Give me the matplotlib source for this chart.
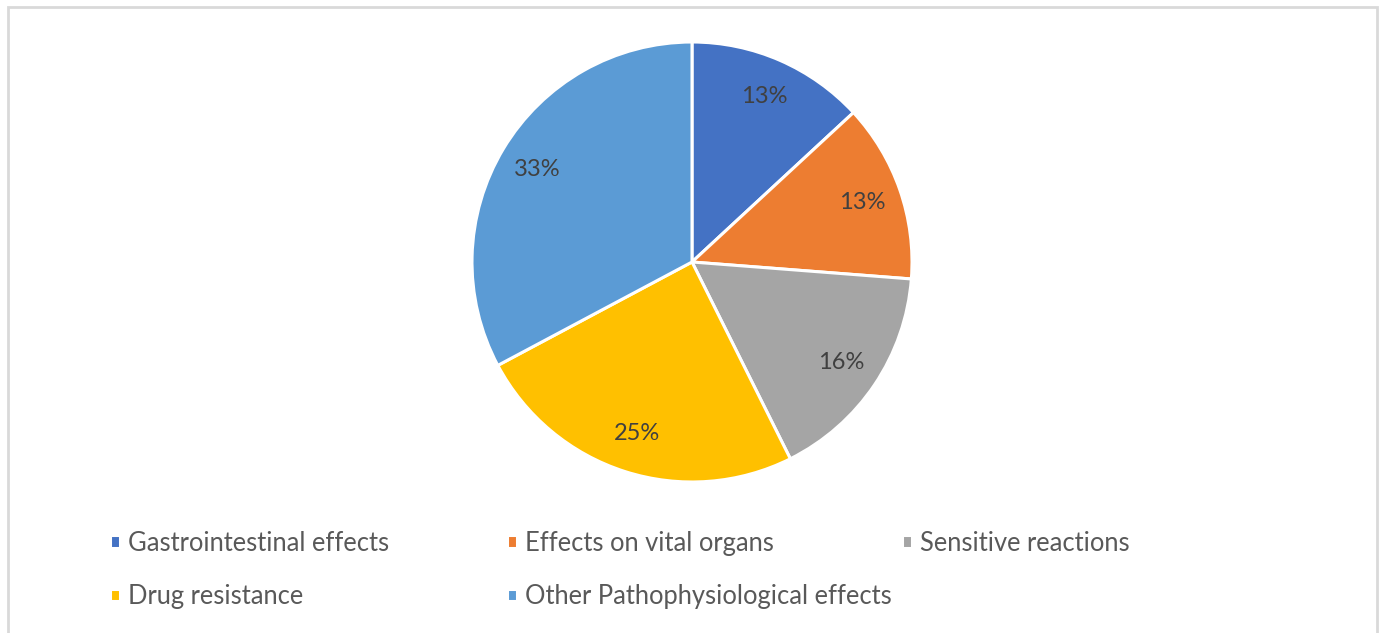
import matplotlib
matplotlib.use('Agg')
import matplotlib.pyplot as plt
from matplotlib.patches import Rectangle

plt.rcParams['font.family'] = ['Lato', 'DejaVu Sans']

categories = ['Gastrointestinal effects', 'Effects on vital organs', 'Sensitive reactions',
              'Drug resistance', 'Other Pathophysiological effects']
values = [8, 8, 10, 15, 20]
colors = ['#4472C4', '#ED7D31', '#A5A5A5', '#FFC000', '#5B9BD5']

W, H = 1383, 633
fig = plt.figure(figsize=(W / 100, H / 100), dpi=100)

# light chart border like the Excel chart area
fig.patches.append(Rectangle((8 / W, -0.02), (1377 - 8) / W, 1.02 - 7 / H,
                             transform=fig.transFigure, fill=False,
                             edgecolor='#d9d9d9', linewidth=2))

cx, cy, r = 692, 262, 220
ax = fig.add_axes([(cx - r) / W, (H - cy - r) / H, 2 * r / W, 2 * r / H])
wedges, texts, autotexts = ax.pie(values, colors=colors, startangle=90, counterclock=False,
                                  autopct='%1.0f%%', pctdistance=0.82, radius=1,
                                  wedgeprops=dict(edgecolor='white', linewidth=2.2),
                                  textprops=dict(color='#404040', fontsize=17))
ax.set_xlim(-1, 1)
ax.set_ylim(-1, 1)
ax.axis('off')

# legend as three columns with equal pitch, like Excel
cols = [[0, 3], [1, 4], [2]]
xs = [110, 507, 902]
for xpix, idx in zip(xs, cols):
    fig.legend([wedges[i] for i in idx], [categories[i] for i in idx],
               loc='upper left', bbox_to_anchor=(xpix / W, 1 - 531 / H),
               frameon=False, fontsize=18.4, labelcolor='#595959',
               handlelength=0.4, handleheight=0.4, handletextpad=0.3,
               labelspacing=1.1, borderpad=0, borderaxespad=0)

fig.savefig('out.png', dpi=100)
